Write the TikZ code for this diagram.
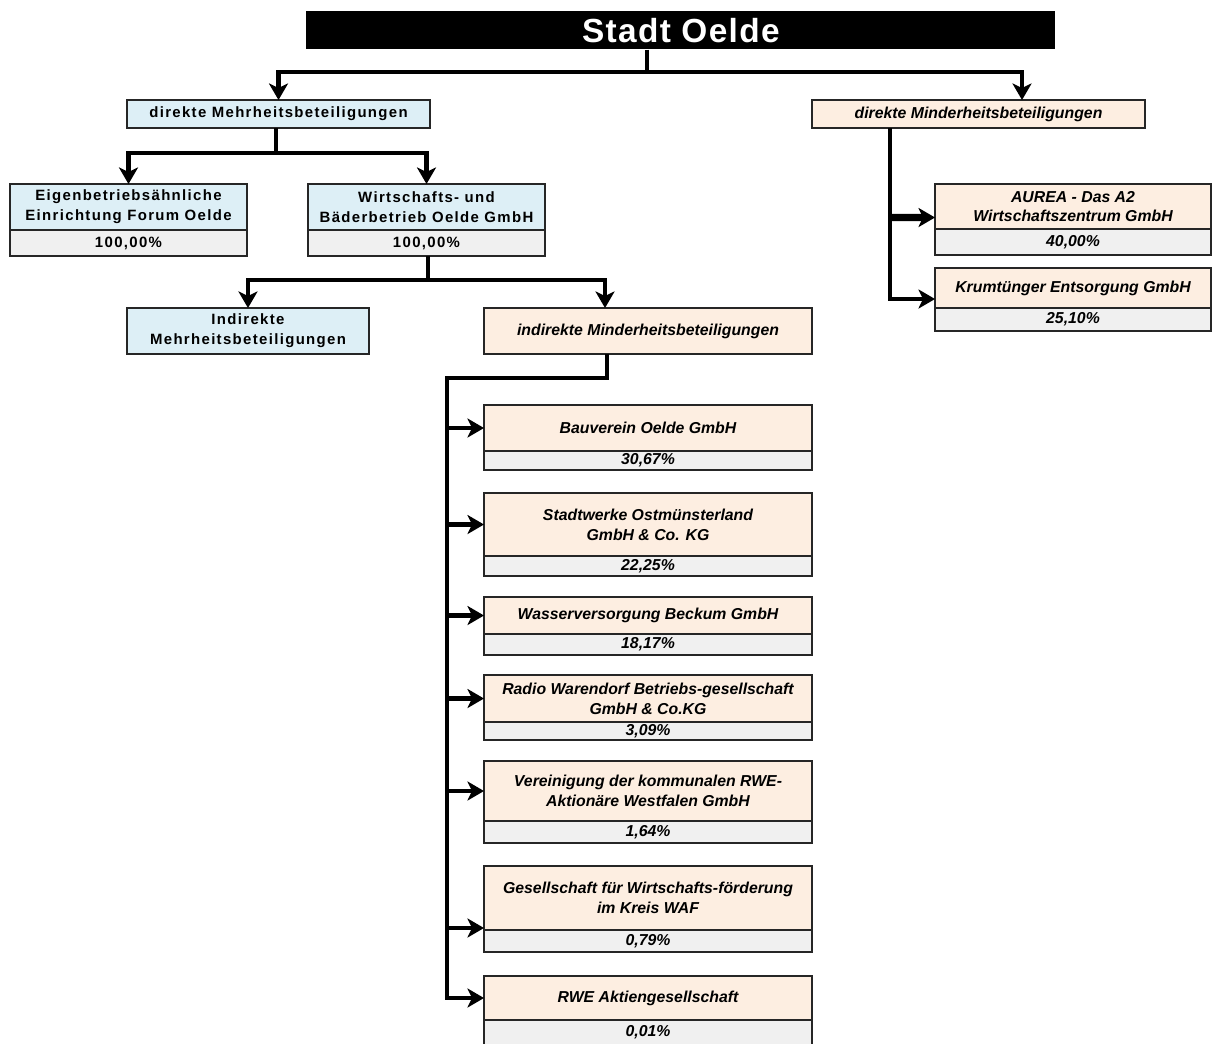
\documentclass[tikz,border=0pt]{standalone}
\usepackage{fontspec}
\setmainfont{Liberation Sans}
\newfontfamily\mehrfont[LetterSpace=9]{Liberation Sans}
\newfontfamily\titelfont[LetterSpace=4]{Liberation Sans}
\usetikzlibrary{positioning,arrows.meta}

\definecolor{mehrblau}{HTML}{DDEFF6}
\definecolor{minderrosa}{HTML}{FDEEE1}
\definecolor{anteilgrau}{HTML}{F0F0F0}

\tikzset{
    kasten/.style={draw=black!85, line width=0.7pt, anchor=north west, align=center, inner sep=0pt, outer sep=0pt},
    mehr/.style={kasten, fill=mehrblau, font=\mehrfont\bfseries\fontsize{8.5}{11.3}\selectfont},
    minder/.style={kasten, fill=minderrosa, font=\bfseries\itshape\fontsize{9}{11.3}\selectfont},
    mehranteil/.style={mehr, fill=anteilgrau},
    minderanteil/.style={minder, fill=anteilgrau},
    spalte/.style={minder, minimum width=65.6mm},
    spalteanteil/.style={minderanteil, minimum width=65.6mm},
    titel/.style={fill=black, text=white, anchor=north west, inner sep=0pt, font=\titelfont\bfseries\fontsize{19}{22}\selectfont},
    linie/.style={line width=2.3pt},
    pfeil/.style={line width=2.3pt, -{Stealth[length=3.3mm,width=3.8mm,inset=0.9mm]}}
}

\begin{document}
\begin{tikzpicture}[x=0.2mm, y=-0.2mm]
        \useasboundingbox (0,0) rectangle (1213,1043);

        \node[titel, minimum width=149.8mm, minimum height=7.6mm] (stadt) at (306,11) {Stadt Oelde};

        \node[mehr, minimum width=60.6mm, minimum height=5.6mm] (dmehr) at (127,100) {direkte Mehrheitsbeteiligungen};
        \node[minder, minimum width=66.6mm, minimum height=5.6mm] (dminder) at (812,100) {direkte Minderheitsbeteiligungen};

        \node[mehr, minimum width=47.4mm, minimum height=9.2mm] (eigen) at (10,184) {Eigenbetriebsähnliche\\Einrichtung Forum Oelde};
        \node[mehranteil, minimum width=47.4mm, minimum height=5.2mm, below=0pt of eigen] (eigenp) {100,00\%};
        \node[mehr, minimum width=47.4mm, minimum height=9.2mm] (wirt) at (308,184) {Wirtschafts- und\\Bäderbetrieb Oelde GmbH};
        \node[mehranteil, minimum width=47.4mm, minimum height=5.2mm, below=0pt of wirt] (wirtp) {100,00\%};

        \node[mehr, minimum width=48.4mm, minimum height=9.2mm] (imehr) at (127,308) {Indirekte\\Mehrheitsbeteiligungen};
        \node[minder, minimum width=65.6mm, minimum height=9.2mm] (iminder) at (484,308) {indirekte Minderheitsbeteiligungen};

        \node[minder, minimum width=55.2mm, minimum height=9mm] (aurea) at (935,184) {AUREA - Das A2\\Wirtschaftszentrum GmbH};
        \node[minderanteil, minimum width=55.2mm, minimum height=5.2mm, below=0pt of aurea] (aureap) {40,00\%};
        \node[minder, minimum width=55.2mm, minimum height=8mm] (krum) at (935,268) {Krumtünger Entsorgung GmbH};
        \node[minderanteil, minimum width=55.2mm, minimum height=4.6mm, below=0pt of krum] (krump) {25,10\%};

        % indirekte Minderheitsbeteiligungen
        \node[spalte, minimum height=9.2mm] (bau) at (484,405) {Bauverein Oelde GmbH};
        \node[spalteanteil, minimum height=3.8mm, below=0pt of bau] (baup) {30,67\%};
        \node[spalte, minimum height=12.6mm] (stadtw) at (484,493) {Stadtwerke Ostmünsterland\\GmbH \& Co. KG};
        \node[spalteanteil, minimum height=4mm, below=0pt of stadtw] (stadtwp) {22,25\%};
        \node[spalte, minimum height=7.4mm] (wasser) at (484,597) {Wasserversorgung Beckum GmbH};
        \node[spalteanteil, minimum height=4.2mm, below=0pt of wasser] (wasserp) {18,17\%};
        \node[spalte, minimum height=9.4mm] (radio) at (484,675) {Radio Warendorf Betriebs-gesellschaft\\GmbH \& Co.KG};
        \node[spalteanteil, minimum height=3.6mm, below=0pt of radio] (radiop) {3,09\%};
        \node[spalte, minimum height=12mm] (verein) at (484,761) {Vereinigung der kommunalen RWE-\\Aktionäre Westfalen GmbH};
        \node[spalteanteil, minimum height=4.4mm, below=0pt of verein] (vereinp) {1,64\%};
        \node[spalte, minimum height=12.8mm] (gesell) at (484,866) {Gesellschaft für Wirtschafts-förderung\\im Kreis WAF};
        \node[spalteanteil, minimum height=4.4mm, below=0pt of gesell] (gesellp) {0,79\%};
        \node[spalte, minimum height=8.8mm] (rwe) at (484,976) {RWE Aktiengesellschaft};
        \node[spalteanteil, minimum height=5mm, below=0pt of rwe] (rwep) {0,01\%};

        \coordinate (s1) at (647,72);
        \coordinate (m1) at (276,153);
        \coordinate (w1) at (428,280);
        \coordinate (k1) at (447,378);

        \draw[linie] (stadt.south -| s1) -- (s1);
        \draw[pfeil] (s1) -| (dmehr.north);
        \draw[pfeil] (s1) -| ([xshift=8.7mm]dminder.north);

        \draw[linie] (dmehr.south -| m1) -- (m1);
        \draw[pfeil] (m1) -| (eigen.north);
        \draw[pfeil] (m1) -| (wirt.north);

        \draw[linie] (wirtp.south -| w1) -- (w1);
        \draw[pfeil] (w1) -| (imehr.north);
        \draw[pfeil] (w1) -| ([xshift=-8.6mm]iminder.north);

        \draw[pfeil, line width=2.8pt] ([xshift=-17.7mm]dminder.south) |- ([yshift=-2.2mm]krum.west);
        \draw[pfeil, line width=4pt] ([xshift=-17.7mm]dminder.south |- aurea.west) ++(0,11) -- ([yshift=-2.2mm]aurea.west);

        \draw[pfeil, line width=2.8pt] ([xshift=-8.2mm]iminder.south) |- (k1) |- (rwe.west);
        \foreach \n in {bau,stadtw,wasser,radio,verein}
            \draw[pfeil] (k1 |- \n.west) -- (\n.west);
        \draw[pfeil] (k1 |- gesell.south west) ++(0,-2) -- ([yshift=0.4mm]gesell.south west);
\end{tikzpicture}
\end{document}
